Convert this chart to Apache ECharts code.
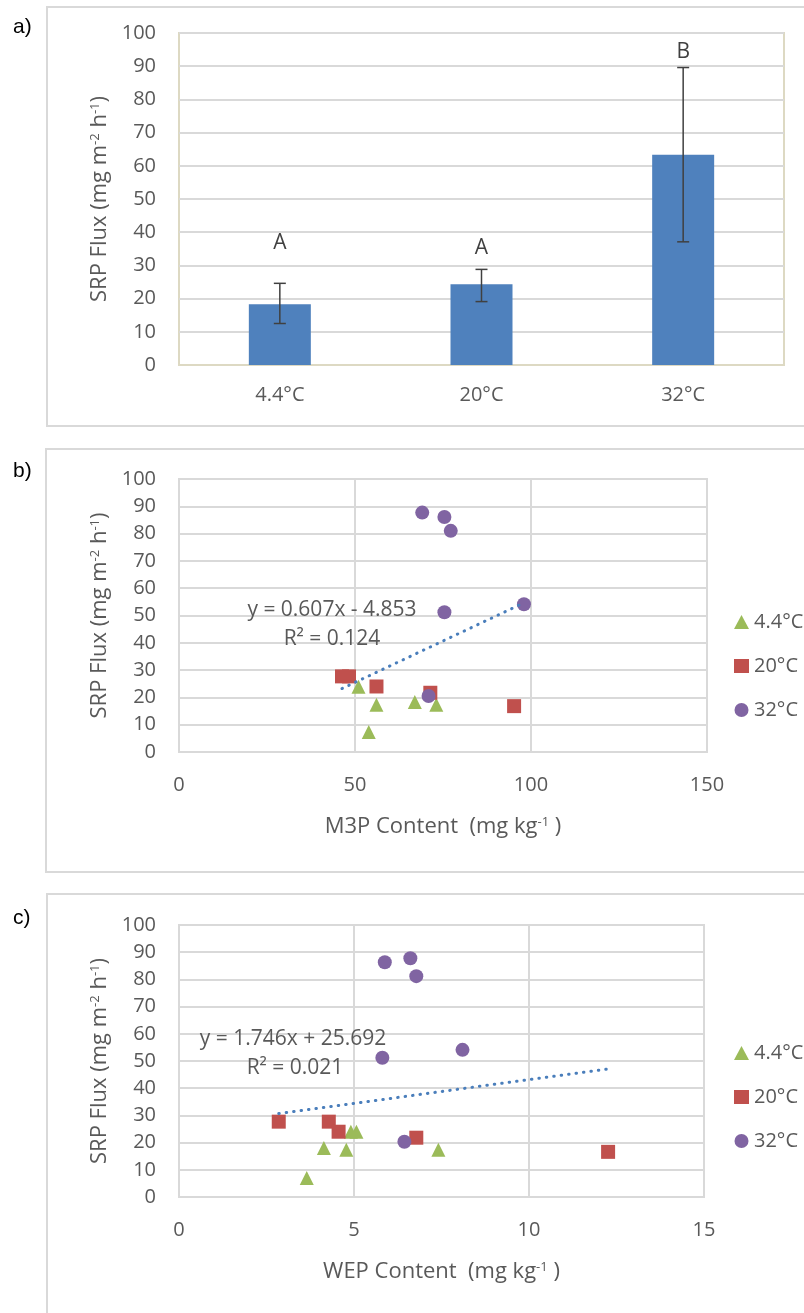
<!DOCTYPE html>
<html>
<head>
<meta charset="utf-8">
<script src="https://cdn.jsdelivr.net/npm/echarts@6/dist/echarts.min.js"></script>
<style>
html,body{margin:0;padding:0;background:#fff;}
#chart{width:804px;height:1313px;}
</style>
</head>
<body>
<div id="chart"></div>
<script>
// ---- Panel a data ----
const catsA = ['4.4°C', '20°C', '32°C'];
const meanA = [18.3, 24.3, 63.3];
const errLowA = [12.5, 19.1, 37.1];
const errHighA = [24.6, 28.8, 89.6];
const letterA = ['A', 'A', 'B'];
const letterYA = [36.7, 35.2, 94.4];

// ---- Panel b data (M3P content vs SRP flux) ----
const b44 = [[51.0, 23.9], [56.1, 17.3], [53.9, 7.3], [67.0, 18.3], [73.1, 17.3]];
const b20 = [[46.3, 27.7], [48.3, 27.7], [56.1, 24.0], [71.4, 21.7], [95.2, 16.8]];
const b32 = [[69.1, 87.7], [75.4, 86.1], [77.2, 81.0], [75.4, 51.2], [98.0, 54.1], [70.9, 20.5]];
const trendB = { slope: 0.607, intercept: -4.853, eq: 'y = 0.607x - 4.853', r2: 'R² = 0.124' };

// ---- Panel c data (WEP content vs SRP flux) ----
const c44 = [[4.14, 18.0], [4.78, 17.4], [3.65, 7.0], [4.91, 24.0], [5.07, 24.0], [7.41, 17.4]];
const c20 = [[2.85, 27.7], [4.28, 27.7], [4.56, 24.0], [6.78, 21.8], [12.26, 16.6]];
const c32 = [[5.88, 86.3], [6.61, 87.8], [6.78, 81.2], [5.81, 51.2], [8.10, 54.1], [6.44, 20.3]];
const trendC = { slope: 1.746, intercept: 25.692, eq: 'y = 1.746x + 25.692', r2: 'R² = 0.021' };

const seriesNames = ['4.4°C', '20°C', '32°C'];
const yTicks = [0, 100, 10];
const xTicksB = [0, 150, 50];
const xTicksC = [0, 15, 5];

function trendLine(t, sets) {
  const xs = [].concat(...sets).map(p => p[0]);
  const x0 = Math.min(...xs), x1 = Math.max(...xs);
  return [[x0, t.slope * x0 + t.intercept], [x1, t.slope * x1 + t.intercept]];
}

const TXT = '#595959';
const FONT = 'Open Sans';
const GRID = '#d9d9d9';
const COLORS = ['#9bbb59', '#c0504d', '#8064a2'];
const SYMS = ['triangle', 'rect', 'circle'];
const SIZES = [14, 14, 14];
const TICK = 20;

const chart = echarts.init(document.getElementById('chart'), null, { renderer: 'canvas' });

const yName = 'SRP Flux (mg m{s|-2} h{s|-1})';
const nameStyle = {
  color: TXT, fontFamily: FONT, fontSize: 22,
  rich: { s: { fontSize: 13, color: TXT, fontFamily: FONT, verticalAlign: 'top', lineHeight: 15 } }
};

function yAxisFor(gi) {
  return {
    type: 'value', gridIndex: gi, min: yTicks[0], max: yTicks[1], interval: yTicks[2],
    name: yName, nameLocation: 'middle', nameGap: 68, nameTextStyle: nameStyle,
    axisLine: { show: gi !== 0, lineStyle: { color: GRID, width: 2 } },
    axisTick: { show: false },
    axisLabel: { color: TXT, fontFamily: FONT, fontSize: TICK, margin: 23 },
    splitLine: { lineStyle: { color: GRID, width: 2 } }
  };
}

function scatterSeries(sets, gi) {
  return sets.map((d, i) => ({
    type: 'scatter', name: seriesNames[i], xAxisIndex: gi, yAxisIndex: gi,
    data: d, symbol: SYMS[i], symbolSize: SIZES[i],
    itemStyle: { color: COLORS[i], opacity: 1 }, z: 3
  }));
}

function trendSeries(t, sets, gi) {
  return {
    type: 'line', xAxisIndex: gi, yAxisIndex: gi, data: trendLine(t, sets),
    symbol: 'none', silent: true, z: 4,
    lineStyle: { color: '#4a7ebb', width: 3, type: [0.5, 7], cap: 'round' }
  };
}

const option = {
  animation: false,
  backgroundColor: '#fff',
  grid: [
    { left: 179, top: 33, width: 605, height: 332, show: true, borderColor: '#ddd9c3', borderWidth: 2 },
    { left: 179, top: 479, width: 528, height: 273, show: true, borderColor: GRID, borderWidth: 2 },
    { left: 179, top: 925, width: 525, height: 272, show: true, borderColor: GRID, borderWidth: 2 }
  ],
  xAxis: [
    {
      type: 'category', gridIndex: 0, data: catsA,
      axisLine: { lineStyle: { color: '#ddd9c3', width: 2 } },
      axisTick: { show: false },
      axisLabel: { color: TXT, fontFamily: FONT, fontSize: TICK, margin: 20 }
    },
    {
      type: 'value', gridIndex: 1, min: xTicksB[0], max: xTicksB[1], interval: xTicksB[2],
      name: 'M3P Content  (mg kg{s|-1} )', nameLocation: 'middle', nameGap: 64,
      nameTextStyle: nameStyle,
      axisLine: { lineStyle: { color: GRID, width: 2 } }, axisTick: { show: false },
      axisLabel: { color: TXT, fontFamily: FONT, fontSize: TICK, margin: 23 },
      splitLine: { lineStyle: { color: GRID, width: 2 } }
    },
    {
      type: 'value', gridIndex: 2, min: xTicksC[0], max: xTicksC[1], interval: xTicksC[2],
      name: 'WEP Content  (mg kg{s|-1} )', nameLocation: 'middle', nameGap: 64,
      nameTextStyle: nameStyle,
      axisLine: { lineStyle: { color: GRID, width: 2 } }, axisTick: { show: false },
      axisLabel: { color: TXT, fontFamily: FONT, fontSize: TICK, margin: 23 },
      splitLine: { lineStyle: { color: GRID, width: 2 } }
    }
  ],
  yAxis: [yAxisFor(0), yAxisFor(1), yAxisFor(2)],
  legend: [
    {
      data: seriesNames, orient: 'vertical', left: 729, top: 607, itemGap: 24,
      itemWidth: 15, itemHeight: 14, selectedMode: false,
      textStyle: { color: TXT, fontFamily: FONT, fontSize: TICK, lineHeight: 20 }
    },
    {
      data: seriesNames, orient: 'vertical', left: 729, top: 1038, itemGap: 24,
      itemWidth: 15, itemHeight: 14, selectedMode: false,
      textStyle: { color: TXT, fontFamily: FONT, fontSize: TICK, lineHeight: 20 }
    }
  ],
  graphic: [
    { type: 'rect', shape: { x: 47, y: 7, width: 800, height: 419 }, style: { fill: 'none', stroke: GRID, lineWidth: 2 }, z: -1 },
    { type: 'rect', shape: { x: 46, y: 449, width: 800, height: 423 }, style: { fill: 'none', stroke: GRID, lineWidth: 2 }, z: -1 },
    { type: 'rect', shape: { x: 47, y: 894, width: 800, height: 440 }, style: { fill: 'none', stroke: GRID, lineWidth: 2 }, z: -1 },
    { type: 'text', x: 13, y: 27, style: { text: 'a)', fill: '#000', font: '21px "Liberation Sans"', textVerticalAlign: 'middle' } },
    { type: 'text', x: 13, y: 471, style: { text: 'b)', fill: '#000', font: '21px "Liberation Sans"', textVerticalAlign: 'middle' } },
    { type: 'text', x: 13, y: 918, style: { text: 'c)', fill: '#000', font: '21px "Liberation Sans"', textVerticalAlign: 'middle' } },
    { type: 'text', x: 332, y: 610, style: { text: trendB.eq, fill: TXT, font: '21px "Open Sans"', textAlign: 'center', textVerticalAlign: 'middle' }, z: 10 },
    { type: 'text', x: 332, y: 639, style: { text: trendB.r2, fill: TXT, font: '21px "Open Sans"', textAlign: 'center', textVerticalAlign: 'middle' }, z: 10 },
    { type: 'text', x: 293, y: 1039, style: { text: trendC.eq, fill: TXT, font: '21px "Open Sans"', textAlign: 'center', textVerticalAlign: 'middle' }, z: 10 },
    { type: 'text', x: 295, y: 1068, style: { text: trendC.r2, fill: TXT, font: '21px "Open Sans"', textAlign: 'center', textVerticalAlign: 'middle' }, z: 10 }
  ],
  series: [
    {
      type: 'bar', xAxisIndex: 0, yAxisIndex: 0, data: meanA, barWidth: 62,
      itemStyle: { color: '#4f81bd' }
    },
    {
      type: 'custom', xAxisIndex: 0, yAxisIndex: 0, z: 5,
      data: catsA.map((c, i) => [i, errLowA[i], errHighA[i]]),
      renderItem: function (params, api) {
        const x = api.value(0);
        const lo = api.coord([x, api.value(1)]);
        const hi = api.coord([x, api.value(2)]);
        const w = 6;
        const st = { stroke: '#404040', lineWidth: 1.5 };
        return {
          type: 'group', children: [
            { type: 'line', shape: { x1: lo[0], y1: lo[1], x2: hi[0], y2: hi[1] }, style: st },
            { type: 'line', shape: { x1: lo[0] - w, y1: lo[1], x2: lo[0] + w, y2: lo[1] }, style: st },
            { type: 'line', shape: { x1: hi[0] - w, y1: hi[1], x2: hi[0] + w, y2: hi[1] }, style: st }
          ]
        };
      }
    },
    {
      type: 'custom', xAxisIndex: 0, yAxisIndex: 0, z: 6,
      data: catsA.map((c, i) => [i, letterYA[i], letterA[i]]),
      renderItem: function (params, api) {
        const p = api.coord([api.value(0), api.value(1)]);
        return {
          type: 'text', x: p[0], y: p[1],
          style: { text: letterA[params.dataIndex], fill: '#404040', font: '21px "Open Sans"', textAlign: 'center', textVerticalAlign: 'middle' }
        };
      }
    },
    ...scatterSeries([b44, b20, b32], 1),
    trendSeries(trendB, [b44, b20, b32], 1),
    ...scatterSeries([c44, c20, c32], 2),
    trendSeries(trendC, [c44, c20, c32], 2)
  ]
};

chart.setOption(option);
</script>
</body>
</html>
